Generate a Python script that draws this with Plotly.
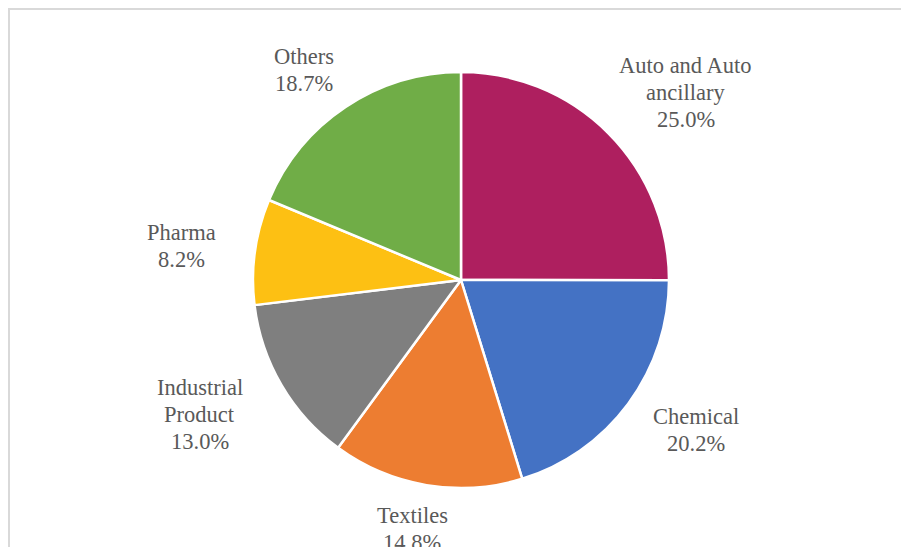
import math
import plotly.graph_objects as go

categories = ["Auto and Auto ancillary", "Chemical", "Textiles", "Industrial Product", "Pharma", "Others"]
label_lines = [["Auto and Auto", "ancillary"], ["Chemical"], ["Textiles"], ["Industrial", "Product"], ["Pharma"], ["Others"]]
shares = [25.0, 20.2, 14.8, 13.0, 8.2, 18.7]
colors = ["#AE1F5F", "#4472C4", "#ED7D31", "#7F7F7F", "#FDC013", "#70AD47"]

W, H = 901, 547
CX, CY, R = 461, 280, 208
FONT = 22.5
LINE_H = 27

fig = go.Figure(go.Pie(
    labels=categories, values=shares, sort=False, direction="clockwise", rotation=0,
    marker=dict(colors=colors, line=dict(color="white", width=2.5)),
    textinfo="none", hoverinfo="label+percent", showlegend=False,
    domain=dict(x=[(CX - R) / W, (CX + R) / W], y=[(H - CY - R) / H, (H - CY + R) / H]),
))

total = sum(shares)
cum = 0.0
annotations = []
for name, txt, v in zip(categories, label_lines, shares):
    mid = (cum + v / 2) / total * 2 * math.pi
    cum += v
    dx, dy = math.sin(mid), -math.cos(mid)
    lines = txt + ["%.1f%%" % v]
    w = max(len(s) for s in lines) * 0.45 * FONT
    h = len(lines) * LINE_H
    px = CX + dx * (R + 44 + w / 2)
    py = CY + dy * (R + 17 + h / 2)
    n = len(lines)
    for i, s in enumerate(lines):
        off = (i - (n - 1) / 2) * LINE_H
        annotations.append(dict(
            x=px / W, y=1 - (py + off) / H, xref="paper", yref="paper",
            text=s, showarrow=False, xanchor="center", yanchor="middle",
            font=dict(family="Times New Roman, Liberation Serif, serif", size=FONT, color="#595959"),
        ))

fig.update_layout(
    width=W, height=H, margin=dict(l=0, r=0, t=0, b=0),
    paper_bgcolor="white", plot_bgcolor="white",
    annotations=annotations,
    shapes=[dict(type="rect", xref="paper", yref="paper",
                 x0=9 / W, x1=1.05, y0=-0.05, y1=1 - 9 / H,
                 line=dict(color="#D9D9D9", width=2))],
)

fig.write_html("out.html")
